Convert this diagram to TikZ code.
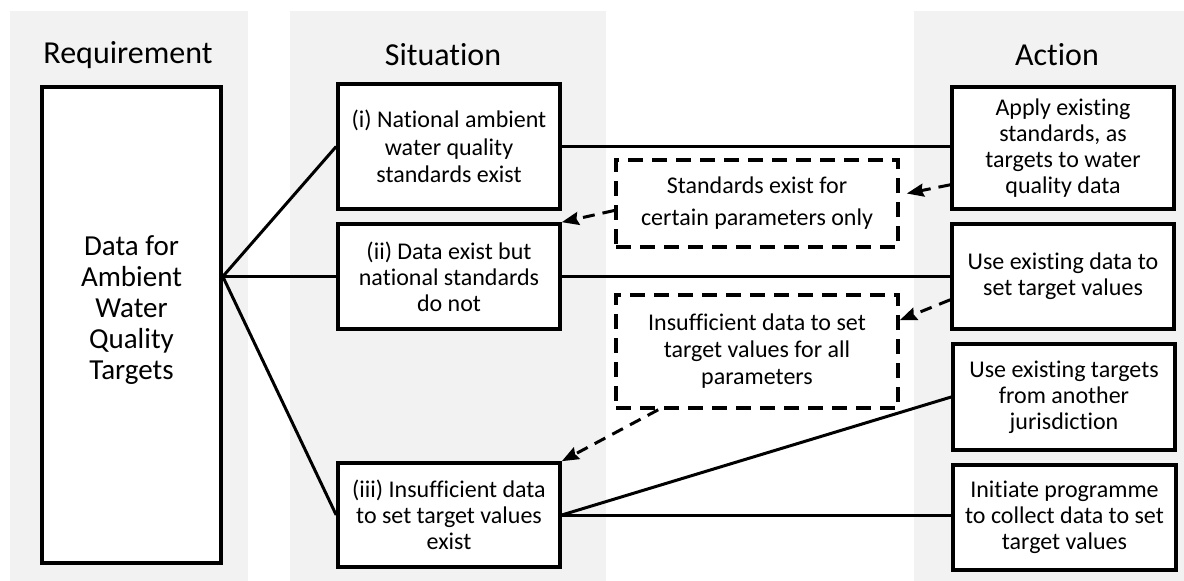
\documentclass[tikz,border=0pt]{standalone}
\usepackage{fontspec}
\setmainfont{Carlito}[Ligatures=NoCommon]
\usetikzlibrary{arrows.meta}
\definecolor{panel}{HTML}{F2F2F2}

\tikzstyle{box}=[draw,line width=3.6pt,fill=white,align=center,inner sep=0pt,font=\fontsize{24}{26}\selectfont]
\tikzstyle{dashbox}=[box,dash pattern=on 15pt off 9pt]
\tikzstyle{title}=[font=\fontsize{32}{38}\selectfont]
\tikzstyle{link}=[draw,line width=3pt,-]
\tikzstyle{hint}=[draw,line width=3pt,dash pattern=on 12pt off 8pt,-{Stealth[length=17pt,width=13pt,inset=2pt]}]

\begin{document}
\begin{tikzpicture}[x=1pt,y=-1pt]
		\useasboundingbox (0,0) rectangle (1184,581);
		% Grey columns behind the three stages
		\fill[panel] (10,11) rectangle (248,581);
		\fill[panel] (290,11) rectangle (606,581);
		\fill[panel] (914,11) rectangle (1184,581);
		\node[title] (treq) at (128,55) {Requirement};
		\node[title] (tsit) at (443,55) {Situation};
		\node[title] (tact) at (1057,55) {Action};
		% Requirement
		\node[box,minimum width=179,minimum height=476] (req) at (131.5,325) {};
		\node[align=center,font=\fontsize{29}{31}\selectfont] (reqtext) at (131.5,310) {Data for\\Ambient\\Water\\Quality\\Targets};
		% Situations
		\node[box,minimum width=222,minimum height=125,font=\fontsize{24}{27.5}\selectfont] (siti) at (449,146.5) {(i) National ambient\\water quality\\standards exist};
		\node[box,minimum width=222,minimum height=105] (sitii) at (449,276.5) {(ii) Data exist but\\national standards\\do not};
		\node[box,minimum width=222,minimum height=104] (sitiii) at (449,515) {(iii) Insufficient data\\to set target values\\exist};
		\node[dashbox,minimum width=282,minimum height=87,font=\fontsize{24}{32}\selectfont] (std) at (757,203.5) {Standards exist for\\certain parameters only};
		\node[dashbox,minimum width=282,minimum height=113,font=\fontsize{24}{27}\selectfont] (insuff) at (757,351.5) {Insufficient data to set\\target values for all\\parameters};
		% Actions
		\node[box,minimum width=222,minimum height=122] (act1) at (1063,148) {Apply existing\\standards, as\\targets to water\\quality data};
		\node[box,minimum width=222,minimum height=105] (act2) at (1063,276.5) {Use existing data to\\set target values};
		\node[box,minimum width=222,minimum height=106] (act3) at (1064,397) {Use existing targets\\from another\\jurisdiction};
		\node[box,minimum width=223,minimum height=105] (act4) at (1064.5,517.5) {Initiate programme\\to collect data to set\\target values};
		% Connect requirement with situations
		\coordinate (hub) at (req.east |- sitii.west);
		\foreach \dest in {siti, sitii, sitiii}
			\path[link] (hub) -- (\dest.west);
		% Connect situations with actions
		\path[link] (siti.east) -- (siti.east -| act1.west);
		\path[link] (sitii.east) -- (act2.west);
		\path[link] (sitiii.east) -- (sitiii.east -| act4.west);
		\path[link] (sitiii.east) -- (act3.west);
		% Fall-back arrows
		\path[hint] ([yshift=26pt]act1.south west) -- ([xshift=7pt,yshift=10pt]std.east);
		\path[hint] ([yshift=-7pt]std.west) -- (sitii.north east);
		\path[hint] ([yshift=31pt]act2.south west) -- ([yshift=-27pt]insuff.north east);
		\path[hint] ([xshift=44pt]insuff.south west) -- (sitiii.north east);
\end{tikzpicture}
\end{document}
